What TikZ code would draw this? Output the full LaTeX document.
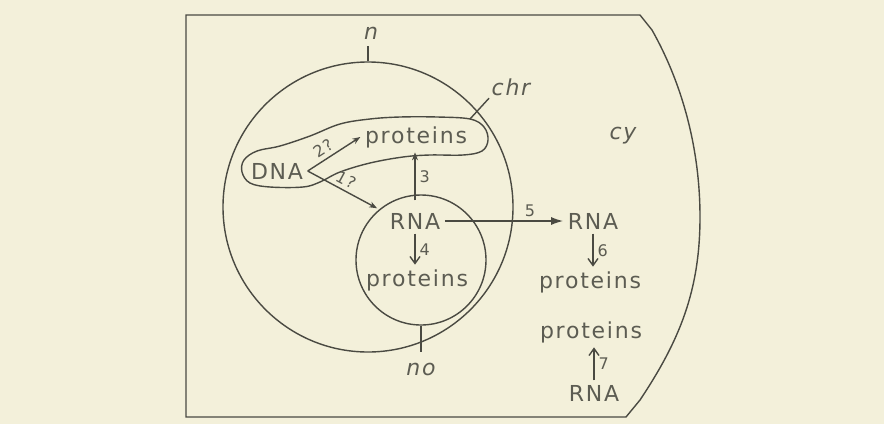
\documentclass[tikz,border=0pt]{standalone}
\usepackage{fontspec}
\setmainfont{DejaVu Sans}[LetterSpace=8]
\usepackage{xcolor}
\usepackage{tikz}
\usetikzlibrary{arrows.meta}
\definecolor{paper}{HTML}{F3F0DA}
\definecolor{inkline}{HTML}{4A4A42}
\definecolor{inktext}{HTML}{5C5C52}

\begin{document}
\begin{tikzpicture}[x=0.5pt, y=-0.5pt, line width=0.7pt, color=inkline,
    word/.style={text=inktext, inner sep=2pt, font=\fontsize{11}{13}\selectfont},
    tag/.style={text=inktext, inner sep=1pt, font=\fontsize{11}{13}\selectfont\itshape},
    num/.style={text=inktext, inner sep=2pt, font=\fontsize{8}{10}\selectfont},
    tip/.style={-{Stealth[length=4pt, width=3pt]}},
    barb/.style={-{Straight Barb[length=3.5pt, width=5pt]}},
    bigtip/.style={-{Latex[length=6pt, width=4pt]}}]
    \fill[paper] (0,0) rectangle (884,424);
    \draw (186,15) -- (640,15) -- (652,30) .. controls (683,85) and (700,150) .. (700,217)
          .. controls (700,290) and (680,340) .. (640,400) -- (626,417) -- (186,417) -- cycle;
    \node[circle, draw, inner sep=0pt, minimum size=145pt] (nucleus) at (368,207) {};
    \node[circle, draw, inner sep=0pt, minimum size=65pt] (nucleolus) at (421,260) {};
    \draw plot[smooth cycle, tension=0.6] coordinates {(257,151) (280,146) (310,136) (340,124)
          (370,119) (400,117) (437,117) (470,119) (484,127) (488,140) (482,151) (463,155)
          (430,155) (403,157) (370,163) (340,172) (320,182) (303,187) (270,187) (250,183)
          (242,172) (244,160)};
    \coordinate (chrpt) at (470,119);

    \node[word] (dna) at (277,171) {DNA};
    \node[word] (protchr) at (416,137) {proteins};
    \node[word] (rnanuc) at (415,221) {RNA};
    \node[word] (protnuc) at (417,280) {proteins};
    \node[word] (rnacy) at (593,221) {RNA};
    \node[word] (protcy) at (590,282) {proteins};
    \node[word] (protcyb) at (591,332) {proteins};
    \node[word] (rnacyb) at (594,393) {RNA};

    \node[tag] (ntag) at (371,33) {n};
    \node[tag] (chrtag) at (511,87) {chr};
    \node[tag] (cytag) at (623,136) {cy};
    \node[tag] (notag) at (421,369) {no};
    \draw[shorten >=2pt] (nucleus.north) -- (nucleus.north |- ntag.south);
    \draw (chrpt) -- (chrtag.south west);
    \draw[shorten >=4pt] (nucleolus.south) -- (notag.north);

    \draw[tip] (dna.east) -- node[num, sloped, above, pos=0.4]{2?} (protchr.west);
    \draw[tip] (dna.east) -- node[num, sloped, above, pos=0.48]{1?} ([xshift=-4pt]rnanuc.north west);
    \draw[tip] ([yshift=4pt]rnanuc.north) -- node[num, right]{3} (rnanuc.north |- protchr.south);
    \draw[barb] (rnanuc.south) -- node[num, right]{4} (rnanuc.south |- protnuc.north);
    \draw[bigtip] (rnanuc.east) -- node[num, above, pos=0.72]{5} (rnacy.west);
    \draw[barb] (rnacy.south) -- node[num, right]{6} (rnacy.south |- protcy.north);
    \draw[barb] (rnacyb.north) -- node[num, right]{7} (rnacyb.north |- protcyb.south);
  \end{tikzpicture}
\end{document}
